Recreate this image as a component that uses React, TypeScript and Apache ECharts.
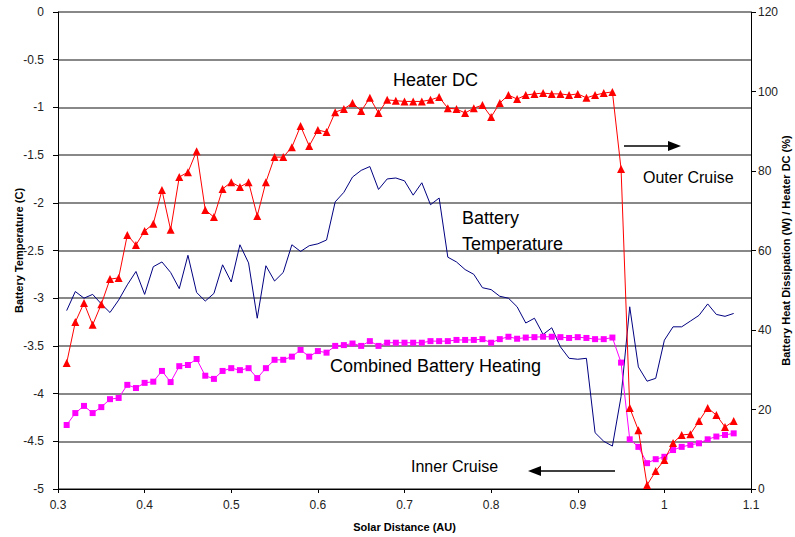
import React, { useEffect, useRef } from "react";
import * as echarts from "echarts";

// Solar distance (AU) of each sample
const distance = [
  0.31, 0.32, 0.33, 0.34, 0.35, 0.36, 0.37, 0.38, 0.39, 0.4,
  0.41, 0.42, 0.43, 0.44, 0.45, 0.46, 0.47, 0.48, 0.49, 0.5,
  0.51, 0.52, 0.53, 0.54, 0.55, 0.56, 0.57, 0.58, 0.59, 0.6,
  0.61, 0.62, 0.63, 0.64, 0.65, 0.66, 0.67, 0.68, 0.69, 0.7,
  0.71, 0.72, 0.73, 0.74, 0.75, 0.76, 0.77, 0.78, 0.79, 0.8,
  0.81, 0.82, 0.83, 0.84, 0.85, 0.86, 0.87, 0.88, 0.89, 0.9,
  0.91, 0.92, 0.93, 0.94, 0.95, 0.96, 0.97, 0.98, 0.99, 1.0,
  1.01, 1.02, 1.03, 1.04, 1.05, 1.06, 1.07, 1.08,
];

// Heater duty cycle (%), right axis
const heaterDC = [
  31.7, 42.0, 46.8, 41.3, 46.5, 52.8, 53.1, 63.9, 61.4, 64.9,
  66.7, 75.2, 65.2, 78.5, 79.7, 85.0, 70.2, 68.4, 75.5, 77.2,
  76.0, 77.2, 68.7, 77.2, 83.5, 83.5, 86.0, 91.3, 86.3, 90.3,
  89.8, 94.8, 95.6, 97.1, 95.1, 98.4, 94.6, 97.9, 97.7, 97.5,
  97.5, 97.5, 97.9, 98.6, 95.8, 95.6, 94.6, 95.8, 96.6, 93.6,
  97.1, 99.1, 98.1, 99.1, 99.4, 99.6, 99.4, 99.4, 99.1, 99.4,
  98.4, 99.1, 99.6, 99.9, 80.5, 20.4, 14.8, 1.0, 4.5, 7.3,
  11.6, 13.6, 13.8, 17.1, 20.4, 18.6, 15.6, 17.1,
];

// Combined battery heating (W), right axis
const batteryHeating = [
  16.1, 19.1, 20.9, 19.1, 20.6, 22.6, 22.9, 26.2, 25.4, 26.7,
  27.0, 29.7, 26.9, 30.9, 31.2, 32.7, 28.5, 27.7, 29.7, 30.4,
  29.9, 30.4, 27.9, 30.4, 32.5, 32.5, 33.3, 35.0, 33.3, 34.7,
  34.3, 36.0, 36.2, 36.6, 36.0, 37.2, 36.0, 36.8, 36.8, 36.8,
  36.8, 36.8, 37.2, 37.2, 37.2, 37.5, 37.5, 37.5, 37.7, 36.8,
  37.7, 38.3, 37.8, 38.1, 38.2, 38.3, 38.3, 38.2, 38.0, 38.2,
  38.0, 37.7, 37.7, 38.1, 31.8, 12.5, 10.6, 6.5, 7.5, 8.1,
  9.8, 10.6, 11.1, 11.5, 12.5, 13.2, 13.6, 14.0,
];

// Battery temperature (C), left axis
const batteryTemp = [
  -3.13, -2.93, -3.0, -2.96, -3.06, -3.15, -3.02, -2.86, -2.72, -2.96,
  -2.67, -2.62, -2.73, -2.9, -2.55, -2.94, -3.03, -2.95, -2.65, -2.83,
  -2.44, -2.63, -3.21, -2.66, -2.82, -2.73, -2.44, -2.51, -2.45, -2.43,
  -2.39, -1.99, -1.89, -1.73, -1.66, -1.62, -1.86, -1.75, -1.74, -1.77,
  -1.92, -1.79, -2.02, -1.95, -2.57, -2.62, -2.7, -2.75, -2.89, -2.91,
  -2.98, -3.0, -3.09, -3.26, -3.21, -3.38, -3.31, -3.51, -3.63, -3.64,
  -3.63, -4.41, -4.5, -4.55, -4.03, -3.09, -3.72, -3.87, -3.84, -3.44,
  -3.3, -3.3, -3.24, -3.18, -3.06, -3.17, -3.19, -3.16,
];

const FONT = "'Liberation Sans', Arial, sans-serif";

export default function App() {
  const ref = useRef<HTMLDivElement>(null);

  useEffect(() => {
    if (!ref.current) return;
    const chart = echarts.init(ref.current, null, { renderer: "svg" });
    const pair = (ys: number[]) => distance.map((x, i) => [x, ys[i]]);

    chart.setOption({
      animation: false,
      backgroundColor: "#ffffff",
      textStyle: { fontFamily: FONT },
      grid: { left: 58, right: 44, top: 12, bottom: 48, containLabel: false, outerBoundsMode: "none" },
      xAxis: {
        type: "value",
        min: 0.3,
        max: 1.1,
        interval: 0.1,
        name: "Solar Distance (AU)",
        nameLocation: "middle",
        nameGap: 32,
        nameMoveOverlap: false,
        nameTextStyle: { fontFamily: FONT, fontSize: 11, fontWeight: "bold", color: "#000" },
        axisLine: { show: true, onZero: false, lineStyle: { color: "#000", width: 1 } },
        axisTick: { show: true, length: 4, lineStyle: { color: "#000" } },
        axisLabel: {
          fontFamily: FONT,
          fontSize: 12,
          color: "#222",
          margin: 10,
          formatter: (v: number) => String(Math.round(v * 10) / 10),
        },
        splitLine: { show: false },
      },
      yAxis: [
        {
          type: "value",
          min: -5,
          max: 0,
          interval: 0.5,
          name: "Battery Temperature (C)",
          nameLocation: "middle",
          nameGap: 34,
          nameMoveOverlap: false,
          nameRotate: 90,
          nameTextStyle: { fontFamily: FONT, fontSize: 11, fontWeight: "bold", color: "#000" },
          axisLine: { show: true, lineStyle: { color: "#000", width: 1 } },
          axisTick: { show: true, length: 5, lineStyle: { color: "#000" } },
          axisLabel: {
            fontFamily: FONT,
            fontSize: 12,
            color: "#222",
            margin: 14,
            formatter: (v: number) => String(Math.round(v * 10) / 10),
          },
          splitLine: { show: true, lineStyle: { color: "#888", width: 2 } },
        },
        {
          type: "value",
          min: 0,
          max: 120,
          interval: 20,
          position: "right",
          name: "Battery Heat Dissipation (W) / Heater DC (%)",
          nameLocation: "middle",
          nameGap: 29,
          nameMoveOverlap: false,
          nameRotate: 90,
          nameTextStyle: { fontFamily: FONT, fontSize: 11, fontWeight: "bold", color: "#000" },
          axisLine: { show: true, lineStyle: { color: "#000", width: 1 } },
          axisTick: { show: true, length: 5, lineStyle: { color: "#000" } },
          axisLabel: { fontFamily: FONT, fontSize: 12, color: "#222", margin: 7 },
          splitLine: { show: false },
        },
      ],
      series: [
        {
          name: "Battery Temperature",
          type: "line",
          yAxisIndex: 0,
          data: pair(batteryTemp),
          showSymbol: false,
          symbol: "none",
          lineStyle: { color: "#000080", width: 1 },
          itemStyle: { color: "#000080" },
          z: 2,
        },
        {
          name: "Combined Battery Heating",
          type: "line",
          yAxisIndex: 1,
          data: pair(batteryHeating),
          symbol: "rect",
          symbolSize: 6,
          lineStyle: { color: "#ff00ff", width: 1 },
          itemStyle: { color: "#ff00ff" },
          z: 3,
        },
        {
          name: "Heater DC",
          type: "line",
          yAxisIndex: 1,
          data: pair(heaterDC),
          symbol: "triangle",
          symbolSize: 8,
          lineStyle: { color: "#ff0000", width: 1 },
          itemStyle: { color: "#ff0000" },
          z: 4,
        },
      ],
      graphic: [
        { type: "text", left: 393, top: 71, style: { text: "Heater DC", font: `18px ${FONT}`, fill: "#000" }, z: 10 },
        { type: "text", left: 462, top: 209, style: { text: "Battery", font: `18px ${FONT}`, fill: "#000" }, z: 10 },
        { type: "text", left: 462, top: 235, style: { text: "Temperature", font: `18px ${FONT}`, fill: "#000" }, z: 10 },
        { type: "text", left: 330, top: 357, style: { text: "Combined Battery Heating", font: `18px ${FONT}`, fill: "#000" }, z: 10 },
        { type: "text", left: 643, top: 169, style: { text: "Outer Cruise", font: `16px ${FONT}`, fill: "#000" }, z: 10 },
        { type: "text", left: 411, top: 458, style: { text: "Inner Cruise", font: `16px ${FONT}`, fill: "#000" }, z: 10 },
        { type: "line", shape: { x1: 624, y1: 146, x2: 670, y2: 146 }, style: { stroke: "#000", lineWidth: 1.5 }, z: 10 },
        { type: "polygon", shape: { points: [[668, 141], [681, 146], [668, 151]] }, style: { fill: "#000" }, z: 10 },
        { type: "line", shape: { x1: 539, y1: 471, x2: 615, y2: 471 }, style: { stroke: "#000", lineWidth: 1.5 }, z: 10 },
        { type: "polygon", shape: { points: [[528, 471], [541, 466], [541, 476]] }, style: { fill: "#000" }, z: 10 },
      ],
    });

    return () => chart.dispose();
  }, []);

  return (
    <div
      ref={ref}
      style={{ position: "fixed", left: 0, top: 0, width: 795, height: 537, background: "#fff" }}
    />
  );
}
